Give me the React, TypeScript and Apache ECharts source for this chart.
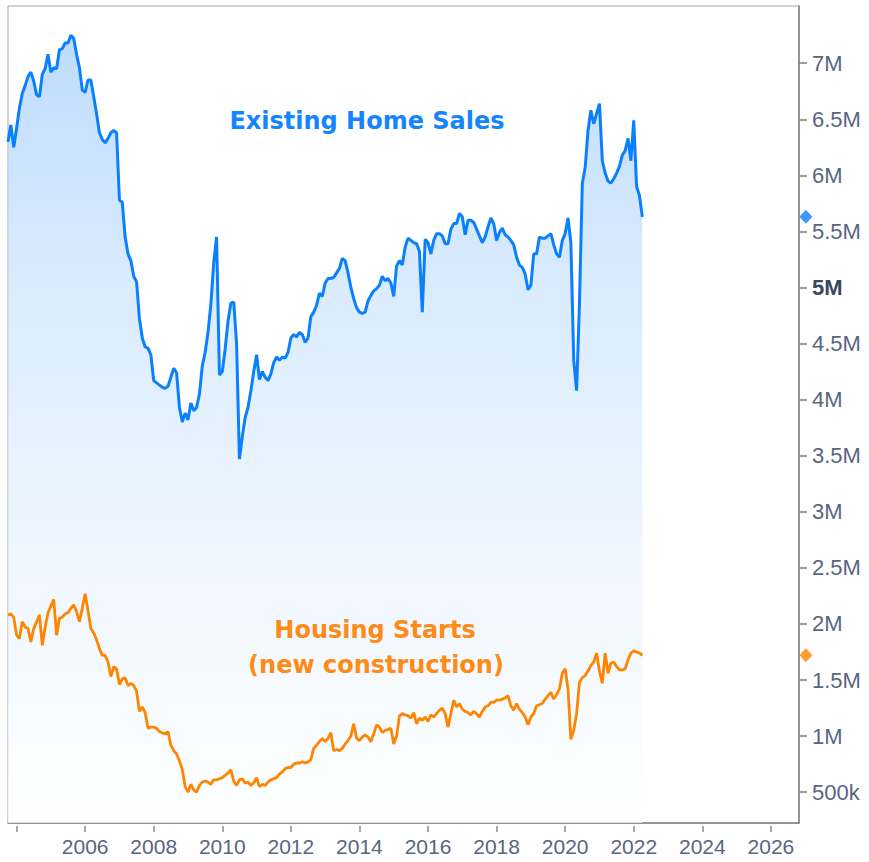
import React, { useEffect, useRef } from "react";
import * as echarts from "echarts";

// Monthly data, starting October 2003 (SAAR, millions of units)
const START_YEAR = 2003;
const START_MONTH = 10;

const existingHomeSales: number[] = [
  // 2003 Oct-Dec
  6.30, 6.45, 6.25,
  // 2004
  6.42, 6.60, 6.73, 6.80, 6.88, 6.92, 6.84, 6.72, 6.70, 6.90, 6.95, 7.08,
  // 2005
  6.92, 6.96, 6.95, 7.12, 7.13, 7.18, 7.18, 7.25, 7.22, 7.08, 6.96, 6.76,
  // 2006
  6.74, 6.85, 6.85, 6.70, 6.55, 6.38, 6.32, 6.29, 6.33, 6.38, 6.40, 6.38,
  // 2007
  5.78, 5.76, 5.45, 5.30, 5.24, 5.10, 5.05, 4.72, 4.55, 4.47, 4.46, 4.40,
  // 2008
  4.17, 4.15, 4.13, 4.11, 4.10, 4.12, 4.20, 4.28, 4.24, 3.93, 3.80, 3.88,
  // 2009
  3.82, 3.97, 3.90, 3.93, 4.05, 4.30, 4.42, 4.60, 4.85, 5.22, 5.45, 4.22,
  // 2010
  4.25, 4.45, 4.70, 4.86, 4.87, 4.50, 3.47, 3.67, 3.84, 3.93, 4.08, 4.25,
  // 2011
  4.40, 4.18, 4.25, 4.20, 4.17, 4.23, 4.33, 4.38, 4.35, 4.38, 4.37, 4.42,
  // 2012
  4.55, 4.58, 4.56, 4.60, 4.58, 4.51, 4.55, 4.74, 4.78, 4.84, 4.95, 4.92,
  // 2013
  5.04, 5.08, 5.08, 5.09, 5.13, 5.17, 5.26, 5.24, 5.13, 5.00, 4.90, 4.82,
  // 2014
  4.78, 4.77, 4.78, 4.88, 4.93, 4.97, 4.99, 5.02, 5.10, 5.06, 5.08, 5.04,
  // 2015
  4.92, 5.19, 5.24, 5.20, 5.36, 5.44, 5.42, 5.40, 5.39, 5.32, 4.78, 5.43,
  // 2016
  5.40, 5.30, 5.42, 5.48, 5.48, 5.46, 5.39, 5.39, 5.52, 5.57, 5.57, 5.66,
  // 2017
  5.63, 5.47, 5.60, 5.60, 5.58, 5.52, 5.46, 5.40, 5.45, 5.54, 5.62, 5.57,
  // 2018
  5.42, 5.49, 5.53, 5.47, 5.45, 5.42, 5.38, 5.27, 5.20, 5.18, 5.12, 4.98,
  // 2019
  5.02, 5.30, 5.30, 5.45, 5.44, 5.44, 5.46, 5.48, 5.38, 5.30, 5.27, 5.42,
  // 2020
  5.48, 5.62, 5.40, 4.35, 4.08, 4.85, 5.93, 6.07, 6.40, 6.58, 6.46, 6.55,
  // 2021
  6.64, 6.13, 6.02, 5.95, 5.93, 5.97, 6.02, 6.08, 6.18, 6.22, 6.33, 6.13,
  // 2022 Jan-Apr
  6.49, 5.90, 5.82, 5.63,
];

const housingStarts: number[] = [
  // 2003 Oct-Dec
  2.08, 2.09, 2.06,
  // 2004
  1.90, 1.87, 2.02, 1.97, 1.96, 1.84, 1.96, 2.02, 2.08, 1.81, 1.97, 2.10,
  // 2005
  2.16, 2.22, 1.90, 2.05, 2.06, 2.09, 2.10, 2.14, 2.17, 2.11, 2.02, 2.14,
  // 2006
  2.27, 2.12, 1.96, 1.92, 1.86, 1.78, 1.72, 1.72, 1.66, 1.53, 1.62, 1.60,
  // 2007
  1.46, 1.51, 1.52, 1.45, 1.47, 1.45, 1.40, 1.22, 1.26, 1.21, 1.07, 1.08,
  // 2008
  1.08, 1.07, 1.04, 1.03, 1.02, 1.04, 0.92, 0.87, 0.84, 0.78, 0.70, 0.55,
  // 2009
  0.50, 0.57, 0.52, 0.50, 0.56, 0.59, 0.60, 0.59, 0.57, 0.61, 0.61, 0.62,
  // 2010
  0.63, 0.65, 0.67, 0.70, 0.60, 0.56, 0.61, 0.62, 0.58, 0.59, 0.56, 0.58,
  // 2011
  0.63, 0.55, 0.57, 0.56, 0.59, 0.61, 0.62, 0.63, 0.66, 0.68, 0.71, 0.72,
  // 2012
  0.72, 0.75, 0.76, 0.76, 0.77, 0.76, 0.77, 0.79, 0.89, 0.92, 0.95, 0.98,
  // 2013
  0.95, 0.98, 1.03, 0.87, 0.88, 0.87, 0.89, 0.93, 0.96, 1.00, 1.11, 0.98,
  // 2014
  0.96, 0.99, 1.01, 0.99, 0.95, 1.02, 1.10, 1.08, 1.03, 1.05, 1.06, 1.07,
  // 2015
  0.93, 1.00, 1.18, 1.20, 1.19, 1.18, 1.16, 1.21, 1.11, 1.16, 1.14, 1.17,
  // 2016
  1.13, 1.19, 1.17, 1.20, 1.23, 1.25, 1.20, 1.08, 1.20, 1.32, 1.26, 1.29,
  // 2017
  1.24, 1.22, 1.21, 1.19, 1.22, 1.20, 1.17, 1.22, 1.26, 1.27, 1.30, 1.30,
  // 2018
  1.32, 1.32, 1.33, 1.34, 1.36, 1.27, 1.23, 1.29, 1.24, 1.21, 1.17, 1.10,
  // 2019
  1.17, 1.20, 1.27, 1.28, 1.29, 1.33, 1.36, 1.39, 1.33, 1.37, 1.42, 1.56,
  // 2020
  1.60, 1.42, 0.97, 1.05, 1.20, 1.48, 1.52, 1.54, 1.58, 1.63, 1.66, 1.74,
  // 2021
  1.58, 1.47, 1.74, 1.56, 1.65, 1.66, 1.62, 1.59, 1.59, 1.60, 1.68, 1.74,
  // 2022 Jan-Apr
  1.76, 1.75, 1.74, 1.72,
];

const xTickYears = [2004, 2006, 2008, 2010, 2012, 2014, 2016, 2018, 2020, 2022, 2024, 2026];
const xLabelYears = [2006, 2008, 2010, 2012, 2014, 2016, 2018, 2020, 2022, 2024, 2026];
const yTickValues = [0.5, 1, 1.5, 2, 2.5, 3, 3.5, 4, 4.5, 5, 5.5, 6, 6.5, 7];

const X_MIN = 2003.75;
const X_MAX = 2026.82;
const Y_MIN = 0.225;
const Y_MAX = 7.51;

const BLUE = "#0a80ff";
const ORANGE = "#ff8500";
const LABEL_COLOR = "#566683";

function toYear(i: number): number {
  return START_YEAR + (START_MONTH - 1 + i) / 12;
}

function fmtY(v: number): string {
  if (v < 1) return Math.round(v * 1000) + "k";
  const s = Math.round(v * 10) / 10 + "M";
  if (Math.abs(v - 5) < 1e-6) return "{b|" + s + "}";
  return s;
}

export default function App() {
  const ref = useRef<HTMLDivElement>(null);

  useEffect(() => {
    if (!ref.current) return;
    const chart = echarts.init(ref.current, null, { renderer: "svg" });

    const blueData = existingHomeSales.map((v, i) => [toYear(i), v]);
    const orangeData = housingStarts.map((v, i) => [toYear(i), v]);
    const markerX = X_MAX + 0.2;

    chart.setOption({
      animation: false,
      backgroundColor: "#ffffff",
      grid: {
        left: 8,
        right: 70,
        top: 6,
        bottom: 39,
        show: true,
        borderColor: "#a6a6a6",
        borderWidth: 1,
        backgroundColor: "transparent",
      },
      xAxis: [
        {
          type: "value",
          min: X_MIN,
          max: X_MAX,
          axisLine: { show: true, onZero: false, lineStyle: { color: "#7f7f7f", width: 1.5 } },
          axisTick: { show: false },
          axisLabel: { show: false },
          splitLine: { show: false },
        },
        {
          type: "value",
          min: X_MIN,
          max: X_MAX,
          position: "bottom",
          offset: 3,
          axisLine: { show: false, onZero: false },
          axisTick: {
            show: true,
            length: 6,
            customValues: xTickYears,
            lineStyle: { color: "#8a8a8a", width: 1.5 },
          },
          axisLabel: {
            show: true,
            customValues: xLabelYears,
            formatter: (v: number) => String(Math.round(v)),
            color: LABEL_COLOR,
            fontSize: 21,
            fontFamily: "'Liberation Sans', Arial, sans-serif",
            margin: 10,
          },
          splitLine: { show: false },
        },
      ],
      yAxis: {
        type: "value",
        position: "right",
        min: Y_MIN,
        max: Y_MAX,
        axisLine: { show: true, onZero: false, lineStyle: { color: "#7f7f7f", width: 1.5 } },
        axisTick: {
          show: true,
          length: 8,
          customValues: yTickValues,
          lineStyle: { color: "#7f7f7f", width: 1.5 },
        },
        axisLabel: {
          show: true,
          customValues: yTickValues,
          formatter: fmtY,
          color: LABEL_COLOR,
          fontSize: 22,
          fontFamily: "'Liberation Sans', Arial, sans-serif",
          margin: 13,
          rich: {
            b: {
              fontWeight: "bold",
              color: "#3b4660",
              fontSize: 22,
              fontFamily: "'Liberation Sans', Arial, sans-serif",
            },
          },
        },
        splitLine: { show: false },
      },
      series: [
        {
          name: "Existing Home Sales",
          type: "line",
          xAxisIndex: 0,
          data: blueData,
          showSymbol: false,
          symbol: "none",
          lineStyle: { color: BLUE, width: 3 },
          areaStyle: {
            origin: "start",
            color: new echarts.graphic.LinearGradient(0, 0, 0, 1, [
              { offset: 0, color: "#a3cdfc" },
              { offset: 0.3, color: "#c8e2fd" },
              { offset: 0.6, color: "#e3f0fe" },
              { offset: 1, color: "#ffffff" },
            ]),
          },
          z: 2,
        },
        {
          name: "Housing Starts",
          type: "line",
          xAxisIndex: 0,
          data: orangeData,
          showSymbol: false,
          symbol: "none",
          lineStyle: { color: ORANGE, width: 2.8 },
          z: 3,
        },
        {
          name: "markers",
          type: "scatter",
          xAxisIndex: 0,
          clip: false,
          silent: true,
          symbol: "diamond",
          symbolSize: [13, 14],
          data: [
            { value: [markerX, existingHomeSales[existingHomeSales.length - 1]], itemStyle: { color: BLUE } },
            { value: [markerX, housingStarts[housingStarts.length - 1]], itemStyle: { color: ORANGE } },
          ],
          z: 5,
        },
      ],
      graphic: [
        {
          type: "text",
          x: 367,
          y: 121,
          z: 10,
          style: {
            text: "Existing Home Sales",
            fill: "#1585ff",
            font: "bold 24px 'DejaVu Sans', sans-serif",
            textAlign: "center",
            textVerticalAlign: "middle",
            align: "center",
            verticalAlign: "middle",
          },
        },
        {
          type: "text",
          x: 375,
          y: 630,
          z: 10,
          style: {
            text: "Housing Starts",
            fill: "#ff8a17",
            font: "bold 24px 'DejaVu Sans', sans-serif",
            textAlign: "center",
            textVerticalAlign: "middle",
            align: "center",
            verticalAlign: "middle",
          },
        },
        {
          type: "text",
          x: 376,
          y: 665,
          z: 10,
          style: {
            text: "(new construction)",
            fill: "#ff8a17",
            font: "bold 24px 'DejaVu Sans', sans-serif",
            textAlign: "center",
            textVerticalAlign: "middle",
            align: "center",
            verticalAlign: "middle",
          },
        },
      ],
    });

    return () => {
      chart.dispose();
    };
  }, []);

  return (
    <div
      ref={ref}
      style={{ position: "fixed", left: 0, top: 0, width: 869, height: 862 }}
    />
  );
}
